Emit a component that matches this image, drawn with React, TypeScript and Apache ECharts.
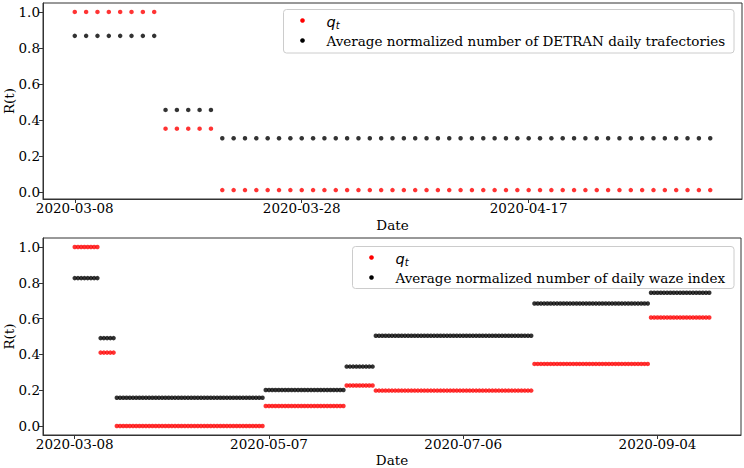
import React, { useEffect, useRef } from "react";
import * as echarts from "echarts";

// ---- data ----
const topStarts = ["2020-03-08", "2020-03-16", "2020-03-21"];
const topEnds = ["2020-03-15", "2020-03-20", "2020-05-03"];
const topQ = [1.0, 0.352, 0.011];
const topAvg = [0.867, 0.456, 0.299];

const botStarts = ["2020-03-08", "2020-03-16", "2020-03-21", "2020-05-06", "2020-05-31", "2020-06-09", "2020-07-28", "2020-09-02"];
const botEnds = ["2020-03-15", "2020-03-20", "2020-05-05", "2020-05-30", "2020-06-08", "2020-07-27", "2020-09-01", "2020-09-20"];
const botQ = [1.0, 0.41, 0.0, 0.112, 0.226, 0.198, 0.347, 0.606];
const botAvg = [0.826, 0.491, 0.158, 0.201, 0.332, 0.504, 0.684, 0.744];

const topTicks = ["2020-03-08", "2020-03-28", "2020-04-17"];
const botTicks = ["2020-03-08", "2020-05-07", "2020-07-06", "2020-09-04"];
const yTicks = [0, 0.2, 0.4, 0.6, 0.8, 1.0];

const TOP_AVG_NAME = "Average normalized number of DETRAN daily trafectories";
const BOT_AVG_NAME = "Average normalized number of daily waze index";

// ---- helpers ----
const DAY = 86400000;
const BASE = Date.UTC(2020, 2, 8);
function dayOf(s: string): number {
  const [y, m, d] = s.split("-").map(Number);
  return Math.round((Date.UTC(y, m - 1, d) - BASE) / DAY);
}
function fmtDay(day: number): string {
  return new Date(BASE + Math.round(day) * DAY).toISOString().slice(0, 10);
}
function expand(starts: string[], ends: string[], vals: number[]) {
  const out: number[][] = [];
  for (let i = 0; i < starts.length; i++) {
    for (let d = dayOf(starts[i]); d <= dayOf(ends[i]); d++) out.push([d, vals[i]]);
  }
  return out;
}

const FONT = "DejaVu Serif";
const FS = 13.5;
const AXC = "#333";

function xAxisCfg(gridIndex: number, first: string, last: string, ticks: string[], nameGap: number) {
  const a = dayOf(first);
  const b = dayOf(last);
  const pad = (b - a) * 0.05;
  const tv = ticks.map(dayOf);
  return {
    type: "value",
    gridIndex,
    min: a - pad,
    max: b + pad,
    name: "Date",
    nameLocation: "middle",
    nameGap,
    nameTextStyle: { fontFamily: FONT, fontSize: FS, color: "#000" },
    axisLine: { show: true, onZero: false, lineStyle: { color: AXC, width: 1 } },
    axisTick: { show: true, inside: false, length: 4, customValues: tv, lineStyle: { color: AXC, width: 1 } },
    axisLabel: {
      show: true,
      customValues: tv,
      margin: 2,
      fontFamily: FONT,
      fontSize: FS,
      color: "#000",
      formatter: (v: number) => fmtDay(v),
    },
    splitLine: { show: false },
  };
}

function yAxisCfg(gridIndex: number, lo: number, hi: number) {
  const pad = (hi - lo) * 0.05;
  return {
    type: "value",
    gridIndex,
    min: lo - pad,
    max: hi + pad,
    name: "R(t)",
    nameLocation: "middle",
    nameGap: 27,
    nameMoveOverlap: false,
    nameTextStyle: { fontFamily: FONT, fontSize: FS, color: "#000" },
    axisLine: { show: true, onZero: false, lineStyle: { color: AXC, width: 1 } },
    axisTick: { show: true, inside: false, length: 4, customValues: yTicks, lineStyle: { color: AXC, width: 1 } },
    axisLabel: {
      show: true,
      customValues: yTicks,
      margin: 3,
      fontFamily: FONT,
      fontSize: FS,
      color: "#000",
      formatter: (v: number) => v.toFixed(1),
    },
    splitLine: { show: false },
  };
}

function legendGraphic(x: number, y: number, w: number, h: number, avgName: string) {
  const mx = x + 19;
  const tx = x + 43;
  const y1 = y + 11;
  const y2 = y + 31;
  return {
    type: "group",
    children: [
      {
        type: "rect",
        shape: { x, y, width: w, height: h, r: 3 },
        style: { fill: "rgba(255,255,255,0.8)", stroke: "#cccccc", lineWidth: 1 },
        z: 10,
      },
      { type: "circle", shape: { cx: mx, cy: y1, r: 2.3 }, style: { fill: "#ff0000" }, z: 11 },
      { type: "circle", shape: { cx: mx, cy: y2, r: 2.3 }, style: { fill: "#000000" }, z: 11 },
      {
        type: "text",
        x: tx,
        y: y1 + 1,
        z: 11,
        style: {
          text: "{q|q}{t|t}",
          verticalAlign: "middle",
          rich: {
            q: { fontFamily: "DejaVu Sans", fontStyle: "italic", fontSize: 14.5, fill: "#000" },
            t: { fontFamily: "DejaVu Sans", fontStyle: "italic", fontSize: 10, fill: "#000", padding: [7, 0, 0, 0] },
          },
        },
      },
      {
        type: "text",
        x: tx,
        y: y2,
        z: 11,
        style: {
          text: avgName,
          verticalAlign: "middle",
          fontFamily: FONT,
          fontSize: FS,
          fill: "#000",
        },
      },
    ],
  };
}

export default function App() {
  const ref = useRef<HTMLDivElement>(null);
  useEffect(() => {
    if (!ref.current) return;
    const chart = echarts.init(ref.current, undefined, { renderer: "svg" });
    const topQData = expand(topStarts, topEnds, topQ);
    const topAvgData = expand(topStarts, topEnds, topAvg);
    const botQData = expand(botStarts, botEnds, botQ);
    const botAvgData = expand(botStarts, botEnds, botAvg);
    const topVals = topQ.concat(topAvg);
    const botVals = botQ.concat(botAvg);
    chart.setOption({
      animation: false,
      backgroundColor: "#fff",
      textStyle: { fontFamily: FONT, fontSize: FS, color: "#000" },
      grid: [
        { left: 43, top: 3, right: 2, height: 196, show: true, borderColor: AXC, borderWidth: 1, backgroundColor: "transparent", containLabel: false, outerBoundsMode: "none" },
        { left: 43, top: 238, right: 3, height: 197, show: true, borderColor: AXC, borderWidth: 1, backgroundColor: "transparent", containLabel: false, outerBoundsMode: "none" },
      ],
      xAxis: [
        xAxisCfg(0, topStarts[0], topEnds[topEnds.length - 1], topTicks, 19),
        xAxisCfg(1, botStarts[0], botEnds[botEnds.length - 1], botTicks, 18),
      ],
      yAxis: [
        yAxisCfg(0, Math.min(...topVals), Math.max(...topVals)),
        yAxisCfg(1, Math.min(...botVals), Math.max(...botVals)),
      ],
      graphic: [
        legendGraphic(283.5, 9.5, 450.5, 43.5, TOP_AVG_NAME),
        legendGraphic(352.5, 246.5, 381.5, 42, BOT_AVG_NAME),
      ],
      series: [
        { type: "scatter", name: "q_t", xAxisIndex: 0, yAxisIndex: 0, data: topQData, symbol: "circle", symbolSize: 4.5, itemStyle: { color: "#ff0000" } },
        { type: "scatter", name: TOP_AVG_NAME, xAxisIndex: 0, yAxisIndex: 0, data: topAvgData, symbol: "circle", symbolSize: 4.5, itemStyle: { color: "#000000" } },
        { type: "scatter", name: "q_t", xAxisIndex: 1, yAxisIndex: 1, data: botQData, symbol: "circle", symbolSize: 4.5, itemStyle: { color: "#ff0000" } },
        { type: "scatter", name: BOT_AVG_NAME, xAxisIndex: 1, yAxisIndex: 1, data: botAvgData, symbol: "circle", symbolSize: 4.5, itemStyle: { color: "#000000" } },
      ],
    });
    return () => chart.dispose();
  }, []);
  return (
    <div
      ref={ref}
      style={{ position: "fixed", left: 0, top: 0, width: 744, height: 468 }}
    />
  );
}
